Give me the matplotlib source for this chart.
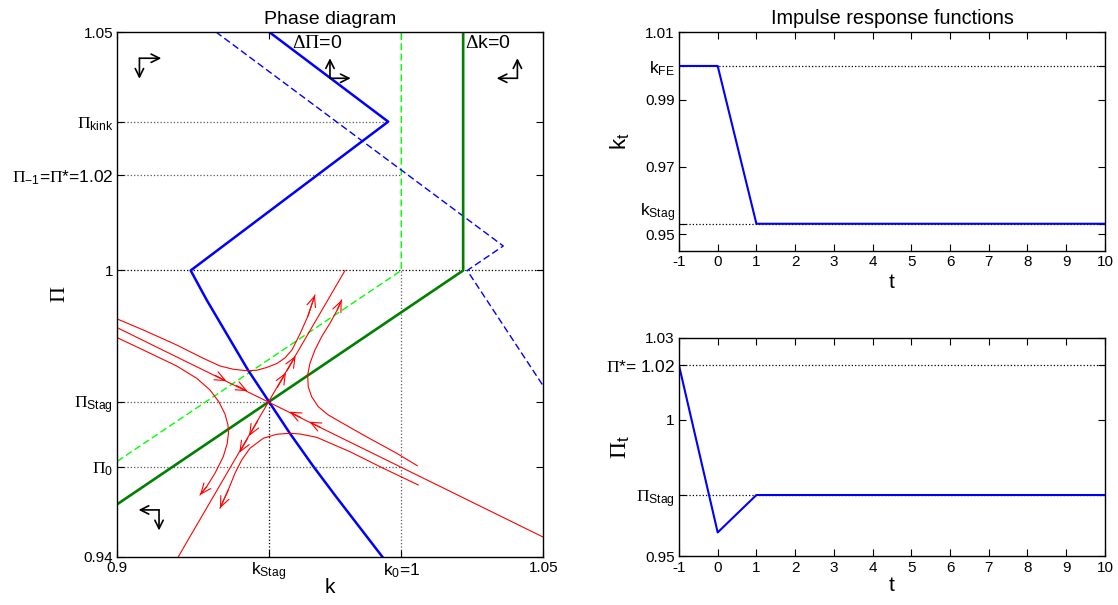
import matplotlib.pyplot as plt

plt.rcParams['font.family'] = ['Liberation Sans', 'DejaVu Sans']
plt.rcParams['mathtext.fontset'] = 'custom'
plt.rcParams['mathtext.rm'] = 'Liberation Sans'
plt.rcParams['mathtext.it'] = 'Liberation Sans'
plt.rcParams['mathtext.sf'] = 'Liberation Serif'
plt.rcParams['axes.unicode_minus'] = False

# key levels
k_stag = 0.9534
pi_stag = 0.9725
pi_0 = 0.9588
pi_kink = 1.0312
pi_star = 1.02
k_fe = 1.0

# Delta Pi = 0 locus (solid) and shifted one (dashed)
dpi_k = [0.9535, 0.9954, 0.92585, 0.93148, 0.94602, 0.95342, 0.96077, 0.96911, 0.97704, 0.99331]
dpi_pi = [1.05, 1.0312, 1.0, 0.99382, 0.97914, 0.97249, 0.96587, 0.95887, 0.95258, 0.94]
dpi2_k = [0.93475, 1.03592, 1.02324, 1.05]
dpi2_pi = [1.05, 1.00514, 1.0, 0.97579]

# Delta k = 0 locus (solid) and shifted one (dashed)
dk_k = [0.9, 1.0218, 1.0218]
dk_pi = [0.951, 1.0, 1.05]
dk2_k = [0.9, 1.0, 1.0]
dk2_pi = [0.960, 1.0, 1.05]

# saddle arms
stable_k = [0.9, 1.05]
stable_pi = [0.9880, 0.9441]
unstable_k = [0.9215, 0.9802]
unstable_pi = [0.94, 1.0]

# trajectories, each ending where its arrow points
c1_k = [0.90000, 0.90915, 0.92092, 0.93028, 0.93616, 0.94085, 0.94556, 0.94908,
        0.95261, 0.95623, 0.95905, 0.96151, 0.96433, 0.96715, 0.96961]
c1_pi = [0.98983, 0.98753, 0.98438, 0.98159, 0.97998, 0.97929, 0.97899, 0.97908,
         0.97966, 0.98050, 0.98166, 0.98333, 0.98669, 0.99046, 0.99486]
c2_k = [0.90000, 0.90915, 0.92092, 0.92796, 0.93264, 0.93581, 0.93792, 0.93898,
        0.93916, 0.93873, 0.93732, 0.93440, 0.93148, 0.92912]
c2_pi = [0.98591, 0.98333, 0.97998, 0.97740, 0.97495, 0.97243, 0.96992, 0.96761,
         0.96593, 0.96377, 0.96096, 0.95748, 0.95467, 0.95294]
c3_k = [1.00563, 0.99838, 0.98662, 0.97842, 0.97430, 0.97077, 0.96845, 0.96725,
        0.96704, 0.96785, 0.96961, 0.97197, 0.97489, 0.97746, 0.97901]
c3_pi = [0.95908, 0.96168, 0.96551, 0.96830, 0.96971, 0.97145, 0.97354, 0.97564,
         0.97809, 0.98054, 0.98333, 0.98612, 0.98893, 0.99172, 0.99382]
c4_k = [1.00599, 0.99366, 0.98194, 0.97021, 0.96433, 0.96081, 0.95613, 0.95141,
        0.94673, 0.94380, 0.94144, 0.93908, 0.93616]
c4_pi = [0.95503, 0.95853, 0.96201, 0.96503, 0.96572, 0.96587, 0.96566, 0.96482,
         0.96273, 0.96027, 0.95748, 0.95398, 0.95015]

# arrows along the arms (tail -> tip)
arm_tail_k = [0.9345, 0.9419, 0.9646, 0.9716, 0.9564, 0.9598, 0.9494, 0.9460]
arm_tail_pi = [0.9780, 0.9759, 0.9692, 0.9671, 0.9755, 0.9790, 0.9684, 0.9649]
arm_tip_k = [0.9385, 0.9459, 0.9606, 0.9676, 0.9594, 0.9628, 0.9464, 0.9430]
arm_tip_pi = [0.9768, 0.9747, 0.9704, 0.9683, 0.9786, 0.9821, 0.9653, 0.9618]

# direction indicators: corner, horizontal tip, vertical tip
dir_k = [0.9078, 0.9749, 1.0409, 0.9147]
dir_pi = [1.0445, 1.0403, 1.0403, 0.9498]
dir_hk = [0.9155, 0.9822, 1.0336, 0.9075]
dir_vpi = [1.0402, 1.0445, 1.0445, 0.9455]

# impulse responses
t = [-1, 0, 1, 2, 3, 4, 5, 6, 7, 8, 9, 10]
k_t = [1.0, 1.0, 0.9531, 0.9531, 0.9531, 0.9531, 0.9531, 0.9531, 0.9531, 0.9531, 0.9531, 0.9531]
pi_t = [1.02, 0.9588, 0.9725, 0.9725, 0.9725, 0.9725, 0.9725, 0.9725, 0.9725, 0.9725, 0.9725, 0.9725]

PI = r'$\mathsf{\Pi}$'
SUB = 12.5

fig = plt.figure(figsize=(11.18, 6.05), dpi=100)
ax = fig.add_axes([0.1049, 0.0799, 0.381, 0.8672])
ax1 = fig.add_axes([0.6073, 0.5851, 0.381, 0.3615])
ax2 = fig.add_axes([0.6073, 0.0802, 0.381, 0.3612])

# ---------- phase diagram ----------
dot = dict(ls=':', lw=0.9, color='0.35', zorder=1)
ax.plot([0.9, dpi_k[1]], [pi_kink, pi_kink], **dot)
ax.plot([0.9, 1.0], [pi_star, pi_star], **dot)
ax.plot([0.9, 1.05], [1.0, 1.0], ls=':', lw=0.9, color='k', zorder=1)
ax.plot([0.9, k_stag], [pi_stag, pi_stag], **dot)
ax.plot([0.9, 1.0], [pi_0, pi_0], **dot)
ax.plot([k_stag, k_stag], [0.94, pi_stag], ls=':', lw=0.9, color='k', zorder=1)
ax.plot([1.0, 1.0], [0.94, 1.0], **dot)

ax.plot(dk2_k, dk2_pi, color='#00ff00', lw=1.0, dashes=(5, 2.5))
ax.plot(dpi2_k, dpi2_pi, color='#0000ff', lw=1.0, dashes=(5, 2.5))
ax.plot(dk_k, dk_pi, color='#007f00', lw=1.9)
ax.plot(dpi_k, dpi_pi, color='#0000ff', lw=1.8)

red = dict(color='#ff0000', lw=0.8)
red_head = dict(arrowstyle='->,head_length=0.75,head_width=0.32', color='#ff0000',
                lw=0.8, shrinkA=0, shrinkB=0, mutation_scale=10)
ax.plot(stable_k, stable_pi, **red)
ax.plot(unstable_k, unstable_pi, **red)
for ck, cp in [(c1_k, c1_pi), (c2_k, c2_pi), (c3_k, c3_pi), (c4_k, c4_pi)]:
    ax.plot(ck, cp, **red)
    ax.annotate('', xy=(ck[-1], cp[-1]), xytext=(ck[-2], cp[-2]), arrowprops=red_head)
for i in range(len(arm_tip_k)):
    ax.annotate('', xy=(arm_tip_k[i], arm_tip_pi[i]),
                xytext=(arm_tail_k[i], arm_tail_pi[i]), arrowprops=red_head)

blk = dict(arrowstyle='->,head_length=0.6,head_width=0.3', color='k', lw=1.2,
           shrinkA=0, shrinkB=0, mutation_scale=10)
for i in range(len(dir_k)):
    ax.annotate('', xy=(dir_hk[i], dir_pi[i]), xytext=(dir_k[i], dir_pi[i]), arrowprops=blk)
    ax.annotate('', xy=(dir_k[i], dir_vpi[i]), xytext=(dir_k[i], dir_pi[i]), arrowprops=blk)

ax.text(0.9614, 1.0476, r'$\mathsf{\Delta\Pi}$=0', fontsize=14, va='center')
ax.text(1.0224, 1.0476, r'$\mathsf{\Delta}$k=0', fontsize=14, va='center')

ax.set_xlim(0.9, 1.05)
ax.set_ylim(0.94, 1.05)
ax.set_xticks([0.9, k_stag, 1.0, 1.05])
ax.set_xticklabels(['0.9', r'k$_{Stag}$', r'k$_0$=1', '1.05'])
ax.set_yticks([0.94, pi_0, pi_stag, 1.0, pi_star, pi_kink, 1.05])
ax.set_yticklabels(['0.94', PI + r'$_0$', PI + r'$_{Stag}$', '1',
                    PI + r'$_{-1}$=' + PI + '*=1.02', PI + r'$_{kink}$', '1.05'])
ax.set_title('Phase diagram', fontsize=14, pad=6)
ax.set_xlabel('k', fontsize=15)
ax.set_ylabel(PI, fontsize=16)
ax.xaxis.set_label_coords(0.5, -0.04)
ax.yaxis.set_label_coords(-0.11, 0.5)

# ---------- impulse responses ----------
ax1.plot([-1, 10], [k_fe, k_fe], ls=':', lw=0.9, color='k')
ax1.plot([-1, 10], [k_t[-1], k_t[-1]], ls=':', lw=0.9, color='k')
ax1.plot(t, k_t, color='#0000ff', lw=1.5)
ax1.set_xlim(-1, 10)
ax1.set_ylim(0.945, 1.01)
ax1.set_xticks(t)
ax1.set_yticks([0.95, k_t[-1], 0.97, 0.99, k_fe, 1.01])
ax1.set_yticklabels(['0.95', r'k$_{Stag}$', '0.97', '0.99', r'k$_{FE}$', '1.01'])
ax1.set_title('Impulse response functions', fontsize=14.3, pad=6)
ax1.set_xlabel('t', fontsize=15)
ax1.set_ylabel(r'k$_t$', fontsize=16)
ax1.xaxis.set_label_coords(0.5, -0.10)
ax1.yaxis.set_label_coords(-0.11, 0.5)

ax2.plot([-1, 10], [pi_star, pi_star], ls=':', lw=0.9, color='k')
ax2.plot([-1, 10], [pi_t[-1], pi_t[-1]], ls=':', lw=0.9, color='k')
ax2.plot(t, pi_t, color='#0000ff', lw=1.5)
ax2.set_xlim(-1, 10)
ax2.set_ylim(0.95, 1.03)
ax2.set_xticks(t)
ax2.set_yticks([0.95, pi_t[-1], 1.0, pi_star, 1.03])
ax2.set_yticklabels(['0.95', PI + r'$_{Stag}$', '1', PI + '*= 1.02', '1.03'])
ax2.set_xlabel('t', fontsize=15)
ax2.set_ylabel(PI + r'$_t$', fontsize=17)
ax2.xaxis.set_label_coords(0.5, -0.09)
ax2.yaxis.set_label_coords(-0.11, 0.5)

for a in (ax, ax1, ax2):
    a.tick_params(direction='in', top=True, right=True, length=5, width=0.8,
                  labelsize=11, pad=3)
    for s in a.spines.values():
        s.set_linewidth(1.0)
    for lab in a.get_xticklabels() + a.get_yticklabels():
        if '$' in lab.get_text():
            lab.set_fontsize(SUB)

# lift the k_Stag label off the 0.95 label, as in the reference
ax1.get_yticklabels()[1].set_va('bottom')

fig.savefig('out.png', dpi=100)
